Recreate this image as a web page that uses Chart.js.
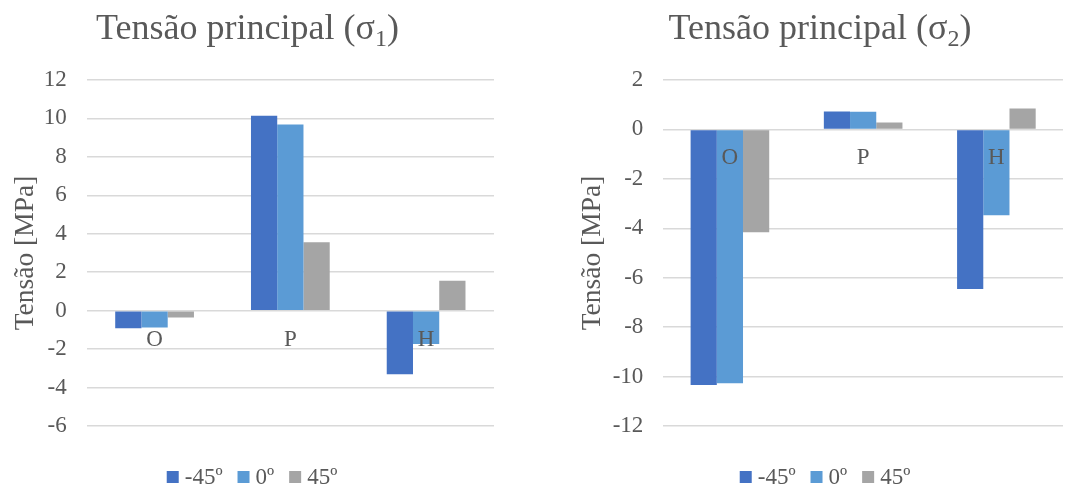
<!DOCTYPE html>
<html>
<head>
<meta charset="utf-8">
<script src="https://cdn.jsdelivr.net/npm/chart.js@4/dist/chart.umd.min.js"></script>
<style>
  html, body { margin: 0; padding: 0; background: #ffffff; }
  body { width: 1067px; height: 488px; position: relative; overflow: hidden; }
  canvas { position: absolute; top: 0; }
  #c1 { left: 0; }
  #c2 { left: 540px; }
</style>
</head>
<body>
<canvas id="c1" width="540" height="488"></canvas>
<canvas id="c2" width="527" height="488"></canvas>
<script>
// Categories and series
const categories = ['O', 'P', 'H'];
const seriesLabels = ['-45º', '0º', '45º'];
const seriesColors = ['#4472C4', '#5B9BD5', '#A5A5A5'];

// σ1 values [MPa]
const sigma1Minus45 = [-0.92, 10.14, -3.31];
const sigma1Zero = [-0.88, 9.69, -1.73];
const sigma1Plus45 = [-0.35, 3.56, 1.55];

// σ2 values [MPa]
const sigma2Minus45 = [-10.34, 0.73, -6.46];
const sigma2Zero = [-10.27, 0.72, -3.47];
const sigma2Plus45 = [-4.16, 0.28, 0.85];

// Axis ranges / ticks: [min, max, step]
const sigma1Ticks = [-6, 12, 2];
const sigma2Ticks = [-12, 2, 2];

const titleMain = 'Tensão principal (σ';
const titleClose = ')';
const subscripts = ['1', '2'];
const yAxisTitle = 'Tensão [MPa]';

const FONT = "'Liberation Serif', 'Times New Roman', serif";
const TEXT = '#595959';
const GRID = '#d9d9d9';

// Title with a subscript index
const subTitlePlugin = {
  id: 'subTitle',
  afterDraw(chart, args, opts) {
    const ctx = chart.ctx;
    ctx.save();
    ctx.fillStyle = TEXT;
    ctx.textBaseline = 'alphabetic';
    ctx.textAlign = 'left';
    const big = '36px ' + FONT, small = '24px ' + FONT;
    ctx.font = big;
    const w1 = ctx.measureText(opts.main).width;
    const w3 = ctx.measureText(opts.close).width;
    ctx.font = small;
    const w2 = ctx.measureText(opts.sub).width;
    let x = opts.cx - (w1 + w2 + w3) / 2;
    ctx.font = big;
    ctx.fillText(opts.main, x, opts.baseline);
    x += w1;
    ctx.font = small;
    ctx.fillText(opts.sub, x, opts.baseline + 7);
    x += w2;
    ctx.font = big;
    ctx.fillText(opts.close, x, opts.baseline);
    ctx.restore();
  }
};

// Legend row under the plot
const legendRowPlugin = {
  id: 'legendRow',
  afterDraw(chart, args, opts) {
    const ctx = chart.ctx;
    ctx.save();
    ctx.font = '23px ' + FONT;
    ctx.textBaseline = 'middle';
    ctx.textAlign = 'left';
    const box = 12, gapText = 6, gapItem = 15;
    const items = chart.data.datasets.map(d => ({
      label: d.label, color: d.backgroundColor,
      w: ctx.measureText(d.label).width
    }));
    const total = items.reduce((s, it) => s + box + gapText + it.w, 0) + gapItem * (items.length - 1);
    let x = opts.cx - total / 2;
    items.forEach(it => {
      ctx.fillStyle = it.color;
      ctx.fillRect(x, opts.cy - box / 2, box, box);
      x += box + gapText;
      ctx.fillStyle = TEXT;
      ctx.fillText(it.label, x, opts.cy + 1);
      x += it.w + gapItem;
    });
    ctx.restore();
  }
};

function makeChart(id, values, ticks, sub, cfg) {
  return new Chart(document.getElementById(id), {
    type: 'bar',
    data: {
      labels: categories,
      datasets: values.map((v, i) => ({
        label: seriesLabels[i],
        data: v,
        backgroundColor: seriesColors[i],
        borderWidth: 0,
        barPercentage: 1.0,
        categoryPercentage: cfg.catPct
      }))
    },
    options: {
      responsive: false,
      animation: false,
      layout: { padding: cfg.padding },
      plugins: {
        legend: { display: false },
        tooltip: { enabled: false },
        subTitle: { main: titleMain, sub: sub, close: titleClose, cx: cfg.titleCx, baseline: 39 },
        legendRow: { cx: cfg.legendCx, cy: 477 }
      },
      scales: {
        x: {
          position: { y: 0 },
          grid: { display: false, drawTicks: false },
          border: { display: false },
          ticks: {
            z: 1,
            color: TEXT,
            font: { family: FONT, size: 23 },
            padding: 15,
            maxRotation: 0
          }
        },
        y: {
          min: ticks[0],
          max: ticks[1],
          ticks: {
            stepSize: ticks[2],
            color: TEXT,
            font: { family: FONT, size: 23 },
            padding: 20
          },
          grid: { color: GRID, lineWidth: 1.5, drawTicks: false },
          border: { display: false },
          title: {
            display: true,
            text: yAxisTitle,
            color: TEXT,
            font: { family: FONT, size: 27.5 },
            padding: { top: 9, bottom: 0 }
          },
          afterFit(scale) { scale.width = cfg.axisWidth; }
        }
      }
    },
    plugins: [subTitlePlugin, legendRowPlugin]
  });
}

makeChart('c1', [sigma1Minus45, sigma1Zero, sigma1Plus45], sigma1Ticks, subscripts[0], {
  catPct: 0.58,
  padding: { left: 0, right: 46, top: 80, bottom: 62 },
  axisWidth: 86.7,
  titleCx: 247.5,
  legendCx: 252
});

makeChart('c2', [sigma2Minus45, sigma2Zero, sigma2Plus45], sigma2Ticks, subscripts[1], {
  catPct: 0.59,
  padding: { left: 27, right: 4, top: 80, bottom: 62 },
  axisWidth: 96.3,
  titleCx: 280,
  legendCx: 285
});
</script>
</body>
</html>
